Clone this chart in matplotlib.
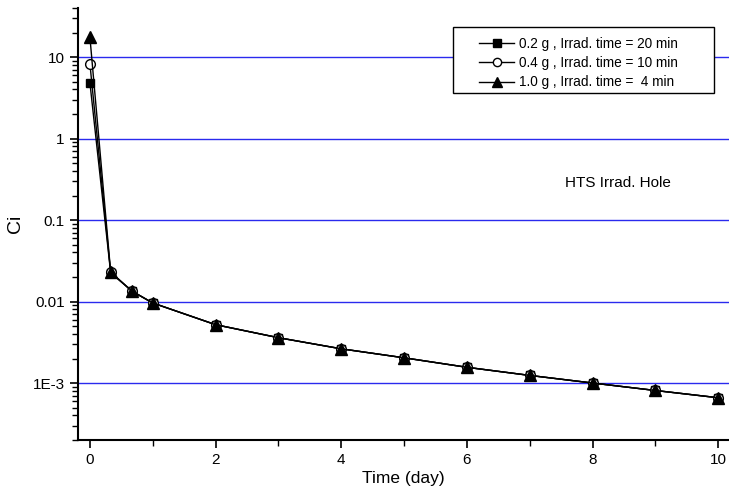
import matplotlib
matplotlib.use("Agg")
import matplotlib.pyplot as plt
from matplotlib.patches import Rectangle
from matplotlib.ticker import LogLocator, FixedLocator, NullFormatter

plt.rcParams["font.family"] = ["Liberation Sans", "DejaVu Sans"]

# time in days
days = [0, 0.33, 0.67, 1, 2, 3, 4, 5, 6, 7, 8, 9, 10]
# activity (Ci) for each sample
ci_02g = [4.8, 0.0225, 0.0134, 0.0096, 0.0052, 0.0036, 0.00263, 0.00204, 0.00156, 0.00124, 0.00100, 0.00081, 0.00066]
ci_04g = [8.2, 0.0228, 0.0134, 0.0096, 0.0052, 0.0036, 0.00263, 0.00204, 0.00156, 0.00124, 0.00100, 0.00081, 0.00066]
ci_10g = [17.4, 0.0230, 0.0134, 0.0096, 0.0052, 0.0036, 0.00263, 0.00204, 0.00156, 0.00124, 0.00100, 0.00081, 0.00066]
labels = ["0.2 g , Irrad. time = 20 min",
          "0.4 g , Irrad. time = 10 min",
          "1.0 g , Irrad. time =  4 min"]

W, H = 729, 495
fig = plt.figure(figsize=(W / 100, H / 100), dpi=100)
ax = fig.add_axes([78 / W, 1 - 440 / H, 1 - 78 / W, (440 - 8) / H])

ax.plot(days, ci_02g, "-", color="black", lw=1, marker="s", ms=6,
        mfc="black", mec="black", label=labels[0])
ax.plot(days, ci_04g, "-", color="black", lw=1, marker="o", ms=7,
        mfc="white", mec="black", label=labels[1])
ax.plot(days, ci_10g, "-", color="black", lw=1, marker="^", ms=8,
        mfc="black", mec="black", label=labels[2])

ax.set_yscale("log")
ax.set_ylim(2e-4, 40)
ax.set_xlim(-0.19, 10.17)

for v in [1e-3, 1e-2, 1e-1, 1, 10]:
    ax.axhline(v, color="#2a2aee", lw=1, zorder=0)

ax.set_yticks([1e-3, 1e-2, 1e-1, 1, 10])
ax.set_yticklabels(["1E-3", "0.01", "0.1", "1", "10"])
ax.yaxis.set_minor_locator(LogLocator(base=10, subs=range(2, 10), numticks=20))
ax.yaxis.set_minor_formatter(NullFormatter())
ax.set_xticks([0, 2, 4, 6, 8, 10])
ax.xaxis.set_minor_locator(FixedLocator([1, 3, 5, 7, 9]))

ax.spines["top"].set_visible(False)
ax.spines["right"].set_visible(False)
ax.spines["left"].set_linewidth(1.5)
ax.spines["bottom"].set_linewidth(1.5)
ax.tick_params(which="major", direction="out", length=6, width=1.2, labelsize=11)
ax.tick_params(which="minor", direction="out", length=4, width=1)

ax.set_xlabel("Time (day)", fontsize=12.5, labelpad=3)
ax.set_ylabel("Ci", fontsize=14, labelpad=6)

ax.text(618 / W, 1 - 183 / H, "HTS Irrad. Hole", fontsize=11,
        ha="center", va="center", transform=fig.transFigure)

# legend box drawn by hand, like the Origin frame
fig.patches.append(Rectangle((453 / W, 1 - 93 / H), (714 - 453) / W, (93 - 27) / H,
                             transform=fig.transFigure, fill=True, facecolor="white",
                             edgecolor="black", lw=1, zorder=3))
leg = fig.legend(*ax.get_legend_handles_labels(), loc="upper left",
                 bbox_to_anchor=(479 / W, 1 - 37 / H), fontsize=9.8, frameon=False,
                 handlelength=2.6, handletextpad=0.35, labelspacing=0.38,
                 borderpad=0, borderaxespad=0, markerscale=0.85)
leg.set_zorder(4)

fig.savefig("out.png", dpi=100)
